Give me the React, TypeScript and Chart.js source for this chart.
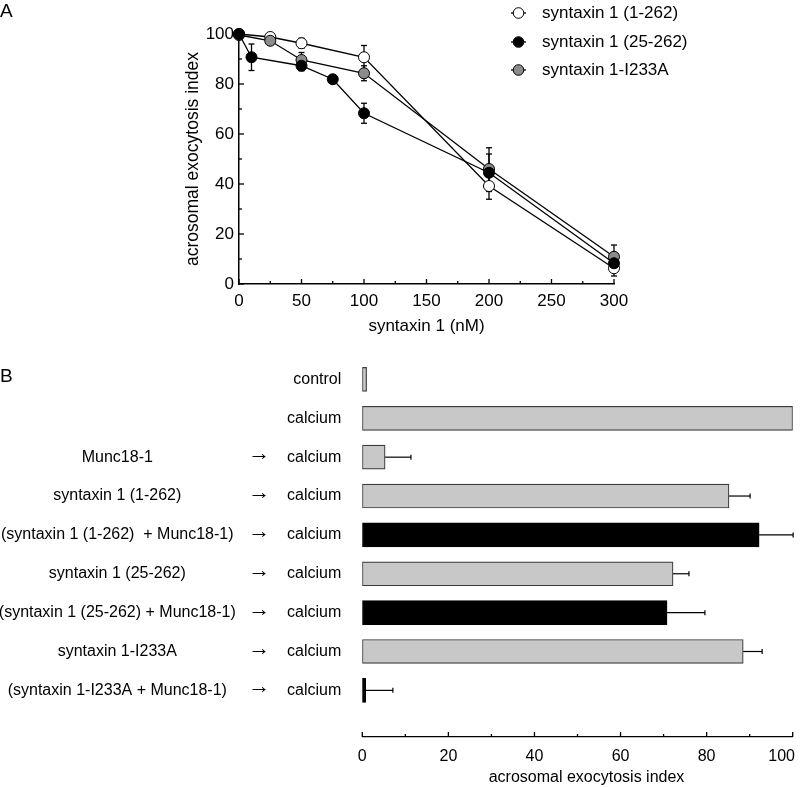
import React, { useEffect, useRef } from 'react';
import { Chart, registerables } from 'chart.js';

Chart.register(...registerables);

const FONT = '"Liberation Sans", Arial, Helvetica, sans-serif';

// ---------- Panel A data ----------
const seriesNames = ['syntaxin 1 (1-262)', 'syntaxin 1 (25-262)', 'syntaxin 1-I233A'];
const seriesFills = ['#ffffff', '#000000', '#8c8c8c'];

const doseWhite = [0, 25, 50, 100, 200, 300];
const valWhite = [100, 98.8, 96.3, 90.7, 39.2, 6.3];
const errWhite = [0, 1.0, 2.0, 4.7, 5.3, 3.1];

const doseBlack = [0, 10, 50, 75, 100, 200, 300];
const valBlack = [100, 90.7, 87.3, 81.9, 68.3, 44.5, 8.3];
const errBlack = [0, 5.3, 2.0, 1.5, 4.0, 7.5, 2.5];

const doseGray = [0, 25, 50, 100, 200, 300];
const valGray = [99.6, 97.3, 89.6, 84.3, 46.0, 10.9];
const errGray = [0, 1.0, 3.0, 3.0, 8.5, 4.7];

const xTitleA = 'syntaxin 1 (nM)';
const yTitleA = 'acrosomal exocytosis index';

// ---------- Panel B data ----------
const conditionsB = [
  '',
  '',
  'Munc18-1',
  'syntaxin 1 (1-262)',
  '(syntaxin 1 (1-262)  + Munc18-1)',
  'syntaxin 1 (25-262)',
  '(syntaxin 1 (25-262) + Munc18-1)',
  'syntaxin 1-I233A',
  '(syntaxin 1-I233A + Munc18-1)',
];
const arrowsB = ['', '', '→', '→', '→', '→', '→', '→', '→'];
const targetsB = ['control', 'calcium', 'calcium', 'calcium', 'calcium', 'calcium', 'calcium', 'calcium', 'calcium'];
const valuesB = [1.0, 100, 5.3, 85.2, 92.2, 72.2, 70.8, 88.5, 0.8];
const errorsB = [0, 0, 6.0, 4.9, 7.9, 3.7, 8.8, 4.4, 6.3];
const fillsB = ['gray', 'gray', 'gray', 'gray', 'black', 'gray', 'black', 'gray', 'black'];
const xTitleB = 'acrosomal exocytosis index';

function line(ctx: CanvasRenderingContext2D, x1: number, y1: number, x2: number, y2: number) {
  ctx.beginPath();
  ctx.moveTo(x1, y1);
  ctx.lineTo(x2, y2);
  ctx.stroke();
}

const pluginA = {
  id: 'panelA',
  beforeDatasetsDraw(chart: any) {
    const ctx: CanvasRenderingContext2D = chart.ctx;
    const ys = chart.scales.y;
    ctx.save();
    ctx.strokeStyle = '#000';
    ctx.lineWidth = 1.3;
    chart.data.datasets.forEach((ds: any, i: number) => {
      const meta = chart.getDatasetMeta(i);
      ds.errors.forEach((e: number, j: number) => {
        if (!e) return;
        const pt = meta.data[j];
        const v = ds.data[j].y;
        const yt = ys.getPixelForValue(v + e);
        const yb = ys.getPixelForValue(v - e);
        line(ctx, pt.x, yt, pt.x, yb);
        line(ctx, pt.x - 3, yt, pt.x + 3, yt);
        line(ctx, pt.x - 3, yb, pt.x + 3, yb);
      });
    });
    ctx.restore();
  },
  afterDraw(chart: any) {
    const ctx: CanvasRenderingContext2D = chart.ctx;
    const xs = chart.scales.x;
    const ys = chart.scales.y;
    const { left, bottom } = chart.chartArea;
    ctx.save();
    ctx.strokeStyle = '#000';
    ctx.fillStyle = '#000';
    ctx.lineWidth = 1.3;
    ctx.font = `17px ${FONT}`;
    ctx.textBaseline = 'middle';
    xs.ticks.forEach((t: any) => {
      const px = xs.getPixelForValue(t.value);
      const major = t.value % 50 === 0;
      line(ctx, px, bottom, px, bottom - (major ? 5 : 3));
      if (major) {
        ctx.textAlign = 'center';
        ctx.fillText(String(t.value), px, bottom + 17);
      }
    });
    ys.ticks.forEach((t: any) => {
      const py = ys.getPixelForValue(t.value);
      const major = t.value % 20 === 0;
      line(ctx, left, py, left + (major ? 5 : 3), py);
      if (major) {
        ctx.textAlign = 'right';
        ctx.fillText(String(t.value), left - 5, py);
      }
    });
    // legend
    const rows = [13, 42, 70];
    ctx.textAlign = 'left';
    seriesNames.forEach((name, i) => {
      const y = rows[i];
      ctx.lineWidth = 1.3;
      line(ctx, 511, y, 526, y);
      ctx.beginPath();
      ctx.arc(518.5, y, 5.3, 0, Math.PI * 2);
      ctx.fillStyle = seriesFills[i];
      ctx.fill();
      ctx.lineWidth = 1;
      ctx.stroke();
      ctx.fillStyle = '#000';
      ctx.fillText(name, 542, y);
    });
    ctx.restore();
  },
};

const pluginB = {
  id: 'panelB',
  afterDraw(chart: any) {
    const ctx: CanvasRenderingContext2D = chart.ctx;
    const xs = chart.scales.x;
    const ys = chart.scales.y;
    const { left, right, bottom } = chart.chartArea;
    ctx.save();
    ctx.strokeStyle = '#000';
    ctx.fillStyle = '#000';
    ctx.lineWidth = 1.2;
    // error bars
    valuesB.forEach((v, i) => {
      const e = errorsB[i];
      if (!e) return;
      const y = ys.getPixelForValue(i);
      const x0 = xs.getPixelForValue(v);
      const x1 = xs.getPixelForValue(v + e);
      line(ctx, x0, y, x1, y);
      line(ctx, x1, y - 2.5, x1, y + 2.5);
    });
    // ticks
    ctx.lineWidth = 1.3;
    ctx.font = `16px ${FONT}`;
    ctx.textBaseline = 'middle';
    ctx.textAlign = 'center';
    xs.ticks.forEach((t: any) => {
      const px = xs.getPixelForValue(t.value);
      const major = t.value % 20 === 0;
      line(ctx, px, bottom, px, bottom - (major ? 5 : 3));
      if (major) {
        const label = String(t.value);
        const w = ctx.measureText(label).width;
        const cx = Math.min(px, chart.width - w / 2 - 5);
        ctx.fillText(label, cx, bottom + 20);
      }
    });
    // axis title
    ctx.fillText(xTitleB, (left + right) / 2 + 9, bottom + 41);
    // left labels
    conditionsB.forEach((c, i) => {
      const y = ys.getPixelForValue(i);
      ctx.font = `16px ${FONT}`;
      ctx.textAlign = 'center';
      if (c) ctx.fillText(c, left - 245, y);
      ctx.textAlign = 'right';
      ctx.fillText(targetsB[i], left - 21, y);
      if (arrowsB[i]) {
        ctx.font = `22px ${FONT}`;
        ctx.textAlign = 'center';
        ctx.fillText(arrowsB[i], left - 103, y - 3);
      }
    });
    ctx.restore();
  },
};

function mkDataset(label: string, xs: number[], ys: number[], errs: number[], fill: string, order: number) {
  return {
    label,
    data: xs.map((x, i) => ({ x, y: ys[i] })),
    errors: errs,
    borderColor: '#000',
    borderWidth: 1.3,
    pointRadius: 5.5,
    pointHoverRadius: 5.5,
    pointBackgroundColor: fill,
    pointBorderColor: '#000',
    pointBorderWidth: 1,
    fill: false,
    tension: 0,
    clip: false as any,
    order,
  };
}

export default function App() {
  const refA = useRef<HTMLCanvasElement>(null);
  const refB = useRef<HTMLCanvasElement>(null);

  useEffect(() => {
    Chart.defaults.font.family = FONT;
    Chart.defaults.color = '#000';

    const chartA = new Chart(refA.current as HTMLCanvasElement, {
      type: 'line',
      data: {
        datasets: [
          mkDataset(seriesNames[0], doseWhite, valWhite, errWhite, seriesFills[0], 2),
          mkDataset(seriesNames[1], doseBlack, valBlack, errBlack, seriesFills[1], 0),
          mkDataset(seriesNames[2], doseGray, valGray, errGray, seriesFills[2], 1),
        ] as any,
      },
      options: {
        animation: false,
        responsive: false,
        events: [],
        layout: { padding: { left: 183, top: 34, right: 186, bottom: 0 } },
        plugins: { legend: { display: false }, tooltip: { enabled: false } },
        scales: {
          x: {
            type: 'linear',
            min: 0,
            max: 300,
            ticks: { display: false, stepSize: 25 },
            grid: { display: false },
            border: { display: true, color: '#000', width: 1.5 },
            title: {
              display: true,
              text: xTitleA,
              color: '#000',
              font: { family: FONT, size: 17 },
              padding: { top: 0, bottom: 3.8 },
            },
            afterFit: (s: any) => {
              s.height = 56;
              s.paddingLeft = 0;
              s.paddingRight = 0;
            },
          },
          y: {
            type: 'linear',
            min: 0,
            max: 100,
            ticks: { display: false, stepSize: 10 },
            grid: { display: false },
            border: { display: true, color: '#000', width: 1.5 },
            title: {
              display: true,
              text: yTitleA,
              color: '#000',
              font: { family: FONT, size: 17.5 },
              padding: 0,
            },
            afterFit: (s: any) => {
              s.width = 56;
              s.paddingTop = 0;
              s.paddingBottom = 0;
            },
          },
        },
      } as any,
      plugins: [pluginA],
    });

    const chartB = new Chart(refB.current as HTMLCanvasElement, {
      type: 'bar',
      data: {
        datasets: [
          {
            data: valuesB.map((v, i) => ({ x: v, y: i })),
            backgroundColor: fillsB.map((f) => (f === 'black' ? '#000000' : '#c8c8c8')),
            borderColor: fillsB.map((f) => (f === 'black' ? '#000000' : '#3a3a3a')),
            borderWidth: 1.2,
            borderSkipped: false,
            barThickness: 24,
          },
        ] as any,
      },
      options: {
        indexAxis: 'y',
        animation: false,
        responsive: false,
        events: [],
        layout: { padding: { left: 362.3, right: 7.3, top: 20, bottom: 0 } },
        plugins: { legend: { display: false }, tooltip: { enabled: false } },
        scales: {
          x: {
            type: 'linear',
            min: 0,
            max: 100,
            offset: false,
            ticks: { display: false, stepSize: 10 },
            grid: { display: false },
            border: { display: true, color: '#000', width: 1.3 },
            afterFit: (s: any) => {
              s.height = 50;
              s.paddingLeft = 0;
              s.paddingRight = 0;
            },
          },
          y: {
            type: 'linear',
            reverse: true,
            offset: false,
            min: -0.5,
            max: 9.2,
            display: false,
          },
        },
      } as any,
      plugins: [pluginB],
    });

    return () => {
      chartA.destroy();
      chartB.destroy();
    };
  }, []);

  return (
    <div
      style={{
        position: 'absolute',
        left: 0,
        top: 0,
        width: 800,
        height: 787,
        background: '#fff',
        overflow: 'hidden',
        fontFamily: FONT,
        color: '#000',
      }}
    >
      <canvas ref={refA} width={800} height={340} style={{ position: 'absolute', left: 0, top: 0 }} />
      <canvas ref={refB} width={800} height={447} style={{ position: 'absolute', left: 0, top: 340 }} />
      <div style={{ position: 'absolute', left: 0, top: 0.5, fontSize: 19, lineHeight: 1 }}>A</div>
      <div style={{ position: 'absolute', left: 0, top: 365.5, fontSize: 19, lineHeight: 1 }}>B</div>
    </div>
  );
}
